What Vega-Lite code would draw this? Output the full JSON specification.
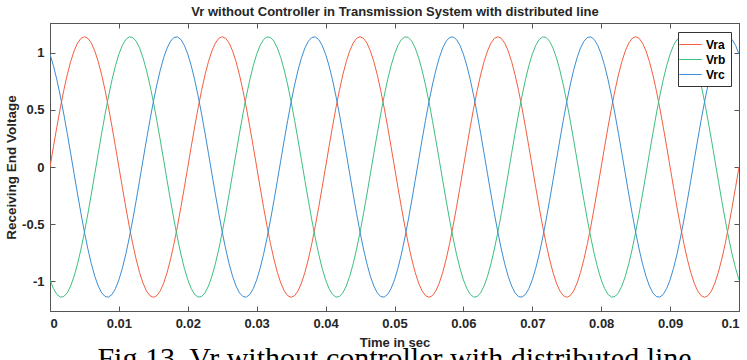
{
"$schema": "https://vega.github.io/schema/vega-lite/v6.json",
"width": 689,
"height": 288,
"autosize": "none",
"padding": {"left": 50, "top": 23, "right": 8, "bottom": 49},
"background": "white",
"title": {"text": "Fig.13. Vr without controller with distributed line", "orient": "bottom", "anchor": "middle", "font": "Liberation Serif", "fontSize": 30, "fontWeight": "normal", "color": "#000000", "offset": -5},
"data": {"values": [
{"t":0,"Vra":0,"Vrb":-0.9873,"Vrc":0.9873},
{"t":0.0005,"Vra":0.1783,"Vrb":-1.0643,"Vrc":0.886},
{"t":0.001,"Vra":0.3523,"Vrb":-1.1151,"Vrc":0.7628},
{"t":0.0015,"Vra":0.5175,"Vrb":-1.1384,"Vrc":0.6209},
{"t":0.002,"Vra":0.6701,"Vrb":-1.1338,"Vrc":0.4637},
{"t":0.0025,"Vra":0.8061,"Vrb":-1.1012,"Vrc":0.2951},
{"t":0.003,"Vra":0.9223,"Vrb":-1.0414,"Vrc":0.1192},
{"t":0.0035,"Vra":1.0158,"Vrb":-0.9561,"Vrc":-0.0597},
{"t":0.004,"Vra":1.0842,"Vrb":-0.8472,"Vrc":-0.237},
{"t":0.0045,"Vra":1.126,"Vrb":-0.7174,"Vrc":-0.4085},
{"t":0.005,"Vra":1.14,"Vrb":-0.57,"Vrc":-0.57},
{"t":0.0055,"Vra":1.126,"Vrb":-0.4085,"Vrc":-0.7174},
{"t":0.006,"Vra":1.0842,"Vrb":-0.237,"Vrc":-0.8472},
{"t":0.0065,"Vra":1.0158,"Vrb":-0.0597,"Vrc":-0.9561},
{"t":0.007,"Vra":0.9223,"Vrb":0.1192,"Vrc":-1.0414},
{"t":0.0075,"Vra":0.8061,"Vrb":0.2951,"Vrc":-1.1012},
{"t":0.008,"Vra":0.6701,"Vrb":0.4637,"Vrc":-1.1338},
{"t":0.0085,"Vra":0.5175,"Vrb":0.6209,"Vrc":-1.1384},
{"t":0.009,"Vra":0.3523,"Vrb":0.7628,"Vrc":-1.1151},
{"t":0.0095,"Vra":0.1783,"Vrb":0.886,"Vrc":-1.0643},
{"t":0.01,"Vra":0,"Vrb":0.9873,"Vrc":-0.9873},
{"t":0.0105,"Vra":-0.1783,"Vrb":1.0643,"Vrc":-0.886},
{"t":0.011,"Vra":-0.3523,"Vrb":1.1151,"Vrc":-0.7628},
{"t":0.0115,"Vra":-0.5175,"Vrb":1.1384,"Vrc":-0.6209},
{"t":0.012,"Vra":-0.6701,"Vrb":1.1338,"Vrc":-0.4637},
{"t":0.0125,"Vra":-0.8061,"Vrb":1.1012,"Vrc":-0.2951},
{"t":0.013,"Vra":-0.9223,"Vrb":1.0414,"Vrc":-0.1192},
{"t":0.0135,"Vra":-1.0158,"Vrb":0.9561,"Vrc":0.0597},
{"t":0.014,"Vra":-1.0842,"Vrb":0.8472,"Vrc":0.237},
{"t":0.0145,"Vra":-1.126,"Vrb":0.7174,"Vrc":0.4085},
{"t":0.015,"Vra":-1.14,"Vrb":0.57,"Vrc":0.57},
{"t":0.0155,"Vra":-1.126,"Vrb":0.4085,"Vrc":0.7174},
{"t":0.016,"Vra":-1.0842,"Vrb":0.237,"Vrc":0.8472},
{"t":0.0165,"Vra":-1.0158,"Vrb":0.0597,"Vrc":0.9561},
{"t":0.017,"Vra":-0.9223,"Vrb":-0.1192,"Vrc":1.0414},
{"t":0.0175,"Vra":-0.8061,"Vrb":-0.2951,"Vrc":1.1012},
{"t":0.018,"Vra":-0.6701,"Vrb":-0.4637,"Vrc":1.1338},
{"t":0.0185,"Vra":-0.5175,"Vrb":-0.6209,"Vrc":1.1384},
{"t":0.019,"Vra":-0.3523,"Vrb":-0.7628,"Vrc":1.1151},
{"t":0.0195,"Vra":-0.1783,"Vrb":-0.886,"Vrc":1.0643},
{"t":0.02,"Vra":0,"Vrb":-0.9873,"Vrc":0.9873},
{"t":0.0205,"Vra":0.1783,"Vrb":-1.0643,"Vrc":0.886},
{"t":0.021,"Vra":0.3523,"Vrb":-1.1151,"Vrc":0.7628},
{"t":0.0215,"Vra":0.5175,"Vrb":-1.1384,"Vrc":0.6209},
{"t":0.022,"Vra":0.6701,"Vrb":-1.1338,"Vrc":0.4637},
{"t":0.0225,"Vra":0.8061,"Vrb":-1.1012,"Vrc":0.2951},
{"t":0.023,"Vra":0.9223,"Vrb":-1.0414,"Vrc":0.1192},
{"t":0.0235,"Vra":1.0158,"Vrb":-0.9561,"Vrc":-0.0597},
{"t":0.024,"Vra":1.0842,"Vrb":-0.8472,"Vrc":-0.237},
{"t":0.0245,"Vra":1.126,"Vrb":-0.7174,"Vrc":-0.4085},
{"t":0.025,"Vra":1.14,"Vrb":-0.57,"Vrc":-0.57},
{"t":0.0255,"Vra":1.126,"Vrb":-0.4085,"Vrc":-0.7174},
{"t":0.026,"Vra":1.0842,"Vrb":-0.237,"Vrc":-0.8472},
{"t":0.0265,"Vra":1.0158,"Vrb":-0.0597,"Vrc":-0.9561},
{"t":0.027,"Vra":0.9223,"Vrb":0.1192,"Vrc":-1.0414},
{"t":0.0275,"Vra":0.8061,"Vrb":0.2951,"Vrc":-1.1012},
{"t":0.028,"Vra":0.6701,"Vrb":0.4637,"Vrc":-1.1338},
{"t":0.0285,"Vra":0.5175,"Vrb":0.6209,"Vrc":-1.1384},
{"t":0.029,"Vra":0.3523,"Vrb":0.7628,"Vrc":-1.1151},
{"t":0.0295,"Vra":0.1783,"Vrb":0.886,"Vrc":-1.0643},
{"t":0.03,"Vra":0,"Vrb":0.9873,"Vrc":-0.9873},
{"t":0.0305,"Vra":-0.1783,"Vrb":1.0643,"Vrc":-0.886},
{"t":0.031,"Vra":-0.3523,"Vrb":1.1151,"Vrc":-0.7628},
{"t":0.0315,"Vra":-0.5175,"Vrb":1.1384,"Vrc":-0.6209},
{"t":0.032,"Vra":-0.6701,"Vrb":1.1338,"Vrc":-0.4637},
{"t":0.0325,"Vra":-0.8061,"Vrb":1.1012,"Vrc":-0.2951},
{"t":0.033,"Vra":-0.9223,"Vrb":1.0414,"Vrc":-0.1192},
{"t":0.0335,"Vra":-1.0158,"Vrb":0.9561,"Vrc":0.0597},
{"t":0.034,"Vra":-1.0842,"Vrb":0.8472,"Vrc":0.237},
{"t":0.0345,"Vra":-1.126,"Vrb":0.7174,"Vrc":0.4085},
{"t":0.035,"Vra":-1.14,"Vrb":0.57,"Vrc":0.57},
{"t":0.0355,"Vra":-1.126,"Vrb":0.4085,"Vrc":0.7174},
{"t":0.036,"Vra":-1.0842,"Vrb":0.237,"Vrc":0.8472},
{"t":0.0365,"Vra":-1.0158,"Vrb":0.0597,"Vrc":0.9561},
{"t":0.037,"Vra":-0.9223,"Vrb":-0.1192,"Vrc":1.0414},
{"t":0.0375,"Vra":-0.8061,"Vrb":-0.2951,"Vrc":1.1012},
{"t":0.038,"Vra":-0.6701,"Vrb":-0.4637,"Vrc":1.1338},
{"t":0.0385,"Vra":-0.5175,"Vrb":-0.6209,"Vrc":1.1384},
{"t":0.039,"Vra":-0.3523,"Vrb":-0.7628,"Vrc":1.1151},
{"t":0.0395,"Vra":-0.1783,"Vrb":-0.886,"Vrc":1.0643},
{"t":0.04,"Vra":0,"Vrb":-0.9873,"Vrc":0.9873},
{"t":0.0405,"Vra":0.1783,"Vrb":-1.0643,"Vrc":0.886},
{"t":0.041,"Vra":0.3523,"Vrb":-1.1151,"Vrc":0.7628},
{"t":0.0415,"Vra":0.5175,"Vrb":-1.1384,"Vrc":0.6209},
{"t":0.042,"Vra":0.6701,"Vrb":-1.1338,"Vrc":0.4637},
{"t":0.0425,"Vra":0.8061,"Vrb":-1.1012,"Vrc":0.2951},
{"t":0.043,"Vra":0.9223,"Vrb":-1.0414,"Vrc":0.1192},
{"t":0.0435,"Vra":1.0158,"Vrb":-0.9561,"Vrc":-0.0597},
{"t":0.044,"Vra":1.0842,"Vrb":-0.8472,"Vrc":-0.237},
{"t":0.0445,"Vra":1.126,"Vrb":-0.7174,"Vrc":-0.4085},
{"t":0.045,"Vra":1.14,"Vrb":-0.57,"Vrc":-0.57},
{"t":0.0455,"Vra":1.126,"Vrb":-0.4085,"Vrc":-0.7174},
{"t":0.046,"Vra":1.0842,"Vrb":-0.237,"Vrc":-0.8472},
{"t":0.0465,"Vra":1.0158,"Vrb":-0.0597,"Vrc":-0.9561},
{"t":0.047,"Vra":0.9223,"Vrb":0.1192,"Vrc":-1.0414},
{"t":0.0475,"Vra":0.8061,"Vrb":0.2951,"Vrc":-1.1012},
{"t":0.048,"Vra":0.6701,"Vrb":0.4637,"Vrc":-1.1338},
{"t":0.0485,"Vra":0.5175,"Vrb":0.6209,"Vrc":-1.1384},
{"t":0.049,"Vra":0.3523,"Vrb":0.7628,"Vrc":-1.1151},
{"t":0.0495,"Vra":0.1783,"Vrb":0.886,"Vrc":-1.0643},
{"t":0.05,"Vra":0,"Vrb":0.9873,"Vrc":-0.9873},
{"t":0.0505,"Vra":-0.1783,"Vrb":1.0643,"Vrc":-0.886},
{"t":0.051,"Vra":-0.3523,"Vrb":1.1151,"Vrc":-0.7628},
{"t":0.0515,"Vra":-0.5175,"Vrb":1.1384,"Vrc":-0.6209},
{"t":0.052,"Vra":-0.6701,"Vrb":1.1338,"Vrc":-0.4637},
{"t":0.0525,"Vra":-0.8061,"Vrb":1.1012,"Vrc":-0.2951},
{"t":0.053,"Vra":-0.9223,"Vrb":1.0414,"Vrc":-0.1192},
{"t":0.0535,"Vra":-1.0158,"Vrb":0.9561,"Vrc":0.0597},
{"t":0.054,"Vra":-1.0842,"Vrb":0.8472,"Vrc":0.237},
{"t":0.0545,"Vra":-1.126,"Vrb":0.7174,"Vrc":0.4085},
{"t":0.055,"Vra":-1.14,"Vrb":0.57,"Vrc":0.57},
{"t":0.0555,"Vra":-1.126,"Vrb":0.4085,"Vrc":0.7174},
{"t":0.056,"Vra":-1.0842,"Vrb":0.237,"Vrc":0.8472},
{"t":0.0565,"Vra":-1.0158,"Vrb":0.0597,"Vrc":0.9561},
{"t":0.057,"Vra":-0.9223,"Vrb":-0.1192,"Vrc":1.0414},
{"t":0.0575,"Vra":-0.8061,"Vrb":-0.2951,"Vrc":1.1012},
{"t":0.058,"Vra":-0.6701,"Vrb":-0.4637,"Vrc":1.1338},
{"t":0.0585,"Vra":-0.5175,"Vrb":-0.6209,"Vrc":1.1384},
{"t":0.059,"Vra":-0.3523,"Vrb":-0.7628,"Vrc":1.1151},
{"t":0.0595,"Vra":-0.1783,"Vrb":-0.886,"Vrc":1.0643},
{"t":0.06,"Vra":0,"Vrb":-0.9873,"Vrc":0.9873},
{"t":0.0605,"Vra":0.1783,"Vrb":-1.0643,"Vrc":0.886},
{"t":0.061,"Vra":0.3523,"Vrb":-1.1151,"Vrc":0.7628},
{"t":0.0615,"Vra":0.5175,"Vrb":-1.1384,"Vrc":0.6209},
{"t":0.062,"Vra":0.6701,"Vrb":-1.1338,"Vrc":0.4637},
{"t":0.0625,"Vra":0.8061,"Vrb":-1.1012,"Vrc":0.2951},
{"t":0.063,"Vra":0.9223,"Vrb":-1.0414,"Vrc":0.1192},
{"t":0.0635,"Vra":1.0158,"Vrb":-0.9561,"Vrc":-0.0597},
{"t":0.064,"Vra":1.0842,"Vrb":-0.8472,"Vrc":-0.237},
{"t":0.0645,"Vra":1.126,"Vrb":-0.7174,"Vrc":-0.4085},
{"t":0.065,"Vra":1.14,"Vrb":-0.57,"Vrc":-0.57},
{"t":0.0655,"Vra":1.126,"Vrb":-0.4085,"Vrc":-0.7174},
{"t":0.066,"Vra":1.0842,"Vrb":-0.237,"Vrc":-0.8472},
{"t":0.0665,"Vra":1.0158,"Vrb":-0.0597,"Vrc":-0.9561},
{"t":0.067,"Vra":0.9223,"Vrb":0.1192,"Vrc":-1.0414},
{"t":0.0675,"Vra":0.8061,"Vrb":0.2951,"Vrc":-1.1012},
{"t":0.068,"Vra":0.6701,"Vrb":0.4637,"Vrc":-1.1338},
{"t":0.0685,"Vra":0.5175,"Vrb":0.6209,"Vrc":-1.1384},
{"t":0.069,"Vra":0.3523,"Vrb":0.7628,"Vrc":-1.1151},
{"t":0.0695,"Vra":0.1783,"Vrb":0.886,"Vrc":-1.0643},
{"t":0.07,"Vra":0,"Vrb":0.9873,"Vrc":-0.9873},
{"t":0.0705,"Vra":-0.1783,"Vrb":1.0643,"Vrc":-0.886},
{"t":0.071,"Vra":-0.3523,"Vrb":1.1151,"Vrc":-0.7628},
{"t":0.0715,"Vra":-0.5175,"Vrb":1.1384,"Vrc":-0.6209},
{"t":0.072,"Vra":-0.6701,"Vrb":1.1338,"Vrc":-0.4637},
{"t":0.0725,"Vra":-0.8061,"Vrb":1.1012,"Vrc":-0.2951},
{"t":0.073,"Vra":-0.9223,"Vrb":1.0414,"Vrc":-0.1192},
{"t":0.0735,"Vra":-1.0158,"Vrb":0.9561,"Vrc":0.0597},
{"t":0.074,"Vra":-1.0842,"Vrb":0.8472,"Vrc":0.237},
{"t":0.0745,"Vra":-1.126,"Vrb":0.7174,"Vrc":0.4085},
{"t":0.075,"Vra":-1.14,"Vrb":0.57,"Vrc":0.57},
{"t":0.0755,"Vra":-1.126,"Vrb":0.4085,"Vrc":0.7174},
{"t":0.076,"Vra":-1.0842,"Vrb":0.237,"Vrc":0.8472},
{"t":0.0765,"Vra":-1.0158,"Vrb":0.0597,"Vrc":0.9561},
{"t":0.077,"Vra":-0.9223,"Vrb":-0.1192,"Vrc":1.0414},
{"t":0.0775,"Vra":-0.8061,"Vrb":-0.2951,"Vrc":1.1012},
{"t":0.078,"Vra":-0.6701,"Vrb":-0.4637,"Vrc":1.1338},
{"t":0.0785,"Vra":-0.5175,"Vrb":-0.6209,"Vrc":1.1384},
{"t":0.079,"Vra":-0.3523,"Vrb":-0.7628,"Vrc":1.1151},
{"t":0.0795,"Vra":-0.1783,"Vrb":-0.886,"Vrc":1.0643},
{"t":0.08,"Vra":0,"Vrb":-0.9873,"Vrc":0.9873},
{"t":0.0805,"Vra":0.1783,"Vrb":-1.0643,"Vrc":0.886},
{"t":0.081,"Vra":0.3523,"Vrb":-1.1151,"Vrc":0.7628},
{"t":0.0815,"Vra":0.5175,"Vrb":-1.1384,"Vrc":0.6209},
{"t":0.082,"Vra":0.6701,"Vrb":-1.1338,"Vrc":0.4637},
{"t":0.0825,"Vra":0.8061,"Vrb":-1.1012,"Vrc":0.2951},
{"t":0.083,"Vra":0.9223,"Vrb":-1.0414,"Vrc":0.1192},
{"t":0.0835,"Vra":1.0158,"Vrb":-0.9561,"Vrc":-0.0597},
{"t":0.084,"Vra":1.0842,"Vrb":-0.8472,"Vrc":-0.237},
{"t":0.0845,"Vra":1.126,"Vrb":-0.7174,"Vrc":-0.4085},
{"t":0.085,"Vra":1.14,"Vrb":-0.57,"Vrc":-0.57},
{"t":0.0855,"Vra":1.126,"Vrb":-0.4085,"Vrc":-0.7174},
{"t":0.086,"Vra":1.0842,"Vrb":-0.237,"Vrc":-0.8472},
{"t":0.0865,"Vra":1.0158,"Vrb":-0.0597,"Vrc":-0.9561},
{"t":0.087,"Vra":0.9223,"Vrb":0.1192,"Vrc":-1.0414},
{"t":0.0875,"Vra":0.8061,"Vrb":0.2951,"Vrc":-1.1012},
{"t":0.088,"Vra":0.6701,"Vrb":0.4637,"Vrc":-1.1338},
{"t":0.0885,"Vra":0.5175,"Vrb":0.6209,"Vrc":-1.1384},
{"t":0.089,"Vra":0.3523,"Vrb":0.7628,"Vrc":-1.1151},
{"t":0.0895,"Vra":0.1783,"Vrb":0.886,"Vrc":-1.0643},
{"t":0.09,"Vra":0,"Vrb":0.9873,"Vrc":-0.9873},
{"t":0.0905,"Vra":-0.1783,"Vrb":1.0643,"Vrc":-0.886},
{"t":0.091,"Vra":-0.3523,"Vrb":1.1151,"Vrc":-0.7628},
{"t":0.0915,"Vra":-0.5175,"Vrb":1.1384,"Vrc":-0.6209},
{"t":0.092,"Vra":-0.6701,"Vrb":1.1338,"Vrc":-0.4637},
{"t":0.0925,"Vra":-0.8061,"Vrb":1.1012,"Vrc":-0.2951},
{"t":0.093,"Vra":-0.9223,"Vrb":1.0414,"Vrc":-0.1192},
{"t":0.0935,"Vra":-1.0158,"Vrb":0.9561,"Vrc":0.0597},
{"t":0.094,"Vra":-1.0842,"Vrb":0.8472,"Vrc":0.237},
{"t":0.0945,"Vra":-1.126,"Vrb":0.7174,"Vrc":0.4085},
{"t":0.095,"Vra":-1.14,"Vrb":0.57,"Vrc":0.57},
{"t":0.0955,"Vra":-1.126,"Vrb":0.4085,"Vrc":0.7174},
{"t":0.096,"Vra":-1.0842,"Vrb":0.237,"Vrc":0.8472},
{"t":0.0965,"Vra":-1.0158,"Vrb":0.0597,"Vrc":0.9561},
{"t":0.097,"Vra":-0.9223,"Vrb":-0.1192,"Vrc":1.0414},
{"t":0.0975,"Vra":-0.8061,"Vrb":-0.2951,"Vrc":1.1012},
{"t":0.098,"Vra":-0.6701,"Vrb":-0.4637,"Vrc":1.1338},
{"t":0.0985,"Vra":-0.5175,"Vrb":-0.6209,"Vrc":1.1384},
{"t":0.099,"Vra":-0.3523,"Vrb":-0.7628,"Vrc":1.1151},
{"t":0.0995,"Vra":-0.1783,"Vrb":-0.886,"Vrc":1.0643},
{"t":0.1,"Vra":0,"Vrb":-0.9873,"Vrc":0.9873}
]},
"transform": [{"fold": ["Vra", "Vrb", "Vrc"], "as": ["series", "value"]}],
"layer": [
{
"mark": {"type": "line", "strokeWidth": 1, "clip": true},
"encoding": {
"x": {"field": "t", "type": "quantitative", "scale": {"domain": [0, 0.1], "nice": false, "zero": false},
"axis": {"orient": "bottom", "title": "Time in sec", "values": [0, 0.01, 0.02, 0.03, 0.04, 0.05, 0.06, 0.07, 0.08, 0.09, 0.1], "labelExpr": "'' + datum.value", "titlePadding": 6}},
"y": {"field": "value", "type": "quantitative", "scale": {"domain": [-1.26, 1.26], "nice": false, "zero": false},
"axis": {"orient": "left", "title": "Receiving End Voltage", "titleFontSize": 13.5, "values": [-1, -0.5, 0, 0.5, 1], "labelExpr": "'' + datum.value", "titlePadding": 3}},
"color": {"field": "series", "type": "nominal", "scale": {"domain": ["Vra", "Vrb", "Vrc"], "range": ["#f55d3e", "#3dbf80", "#3a8dd4"]},
"legend": {"title": null, "orient": "none", "legendX": 628, "legendY": 9, "symbolType": "M-1.6,0H1.6", "symbolSize": 196, "symbolStrokeWidth": 1, "labelFont": "Liberation Sans", "labelFontWeight": "bold", "labelFontSize": 12, "labelColor": "#000000", "rowPadding": 1, "fillColor": "white", "strokeColor": "#333333", "padding": 5, "labelOffset": 8}}
}
},
{
"mark": {"type": "line", "opacity": 0},
"encoding": {
"x": {"field": "t", "type": "quantitative", "scale": {"domain": [0, 0.1], "nice": false, "zero": false},
"axis": {"orient": "top", "title": "Vr without Controller in Transmission System with distributed line", "values": [0, 0.01, 0.02, 0.03, 0.04, 0.05, 0.06, 0.07, 0.08, 0.09, 0.1], "labels": false, "titlePadding": 4, "titleFontSize": 13}},
"y": {"field": "value", "type": "quantitative", "scale": {"domain": [-1.26, 1.26], "nice": false, "zero": false},
"axis": {"orient": "right", "title": null, "values": [-1, -0.5, 0, 0.5, 1], "labels": false}},
"detail": {"field": "series", "type": "nominal"}
}
}
],
"resolve": {"axis": {"x": "independent", "y": "independent"}},
"config": {
"view": {"stroke": "#555555", "strokeWidth": 1},
"axis": {"grid": false, "domainColor": "#555555", "tickColor": "#555555", "tickSize": -5, "labelPadding": 11, "labelFont": "Liberation Sans", "labelFontWeight": "bold", "labelFontSize": 13, "labelColor": "#262626", "titleFont": "Liberation Sans", "titleFontWeight": "bold", "titleFontSize": 13, "titleColor": "#262626"},
"legend": {"labelLimit": 100}
}
}
